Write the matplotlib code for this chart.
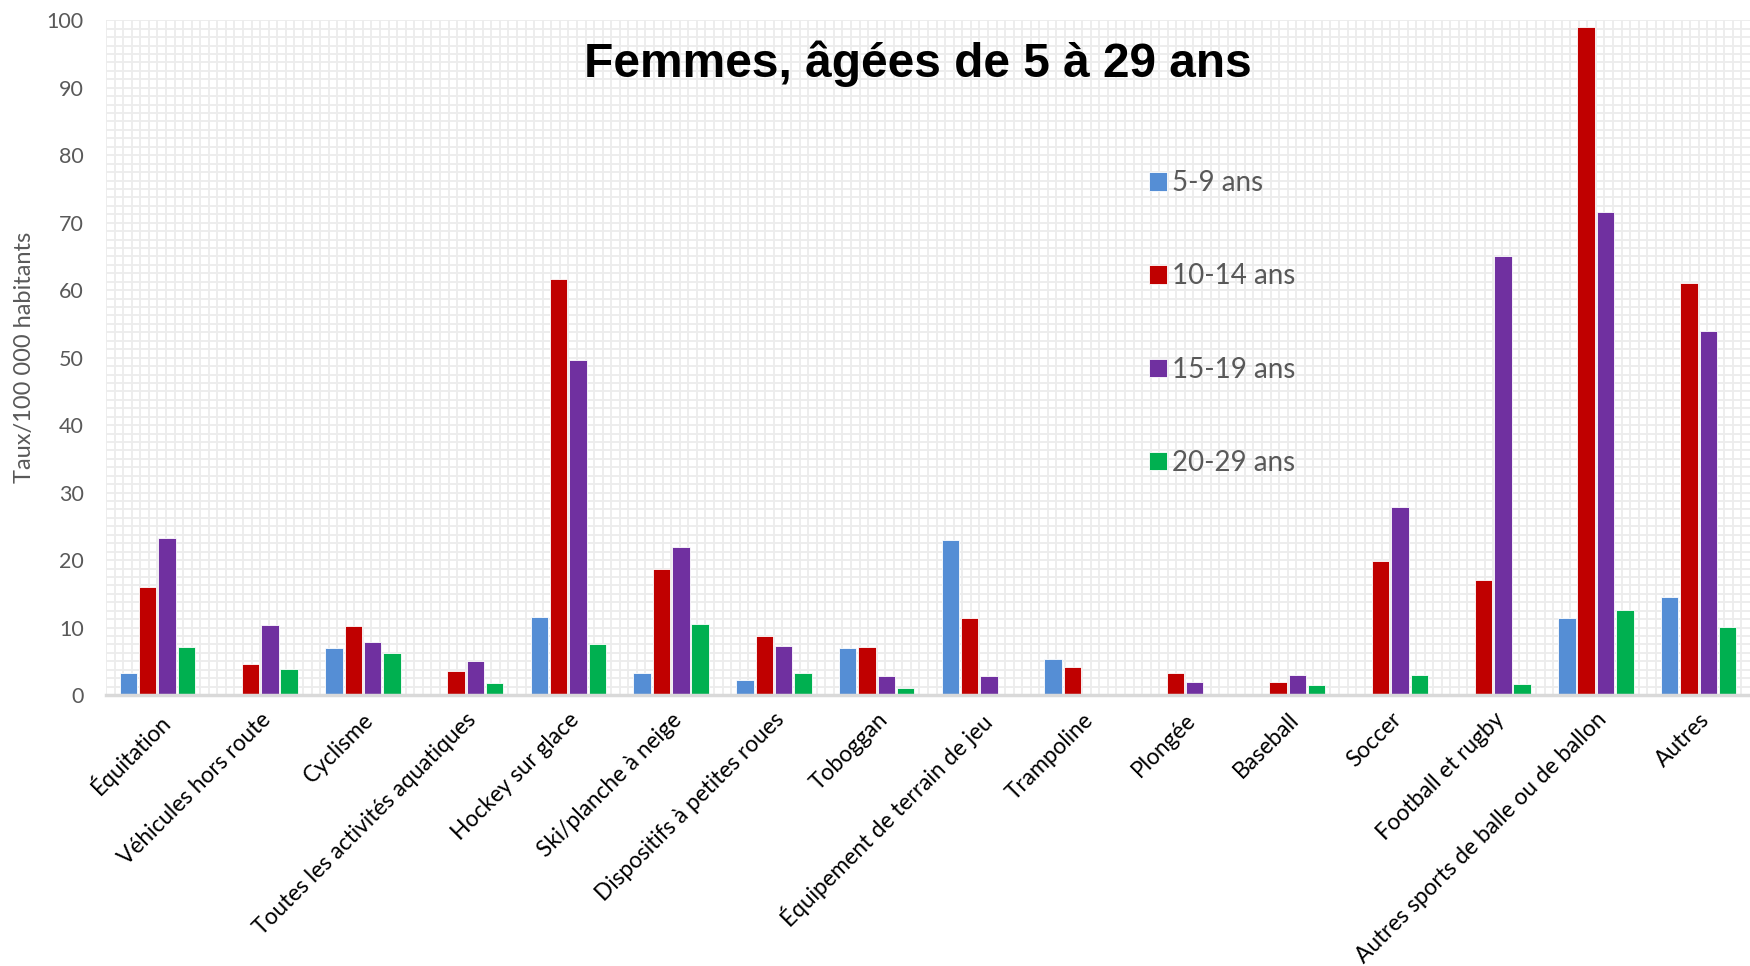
import numpy as np
import matplotlib
matplotlib.use("Agg")
import matplotlib.pyplot as plt
from matplotlib.ticker import MultipleLocator

# données
categories = ["Équitation", "Véhicules hors route", "Cyclisme",
              "Toutes les activités aquatiques", "Hockey sur glace",
              "Ski/planche à neige", "Dispositifs à petites roues", "Toboggan",
              "Équipement de terrain de jeu", "Trampoline", "Plongée", "Baseball",
              "Soccer", "Football et rugby", "Autres sports de balle ou de ballon",
              "Autres"]
groupes = ["5-9 ans", "10-14 ans", "15-19 ans", "20-29 ans"]

ans_5_9 = [3.3, 0, 6.9, 0, 11.6, 3.3, 2.3, 6.9, 23.0, 5.3, 0, 0, 0, 0, 11.4, 14.5]
ans_10_14 = [16.0, 4.6, 10.2, 3.5, 61.7, 18.7, 8.8, 7.1, 11.4, 4.1, 3.3, 2.0, 19.8, 17.0, 99.0, 61.0]
ans_15_19 = [23.3, 10.4, 7.9, 5.0, 49.6, 22.0, 7.3, 2.8, 2.8, 0, 2.0, 3.0, 27.8, 65.1, 71.6, 54.0]
ans_20_29 = [7.1, 3.8, 6.3, 1.8, 7.6, 10.6, 3.3, 1.0, 0, 0, 0, 1.5, 3.0, 1.7, 12.6, 10.1]

series = [ans_5_9, ans_10_14, ans_15_19, ans_20_29]
couleurs = ["#558ED5", "#C00000", "#7030A0", "#00B050"]

plt.rcParams["font.family"] = ["Lato", "DejaVu Sans"]

fig = plt.figure(figsize=(17.5, 9.66), dpi=100)
ax = fig.add_axes([0.0606, 0.2805, 0.9394, 0.6985])

x = np.arange(len(categories))
pas = 0.188
larg = 0.17
for i, (vals, c, lab) in enumerate(zip(series, couleurs, groupes)):
    ax.bar(x + (i - 1.5) * pas, vals, width=larg, color=c, label=lab,
           edgecolor="white", linewidth=0.6, zorder=3)

ax.set_xlim(-0.5, len(categories) - 0.5)
ax.set_ylim(0, 100)
ax.yaxis.set_major_locator(MultipleLocator(10))
ax.yaxis.set_minor_locator(MultipleLocator(1.25))
ax.set_xticks(x)
ax.set_xticklabels(categories, rotation=45, ha="right", rotation_mode="anchor",
                   fontsize=16.3, color="black")
ax.set_xticks(np.arange(-0.5, len(categories) - 0.5, 1 / 12), minor=True)

# grille fine en fond
ax.grid(True, which="both", color="#ececec", linewidth=1.3, zorder=0)
ax.set_axisbelow(True)

for s in ["top", "right", "left"]:
    ax.spines[s].set_visible(False)
ax.spines["bottom"].set_color("#d9d9d9")
ax.spines["bottom"].set_linewidth(2.5)
ax.spines["bottom"].set_zorder(4)

ax.tick_params(axis="both", which="both", length=0)
ax.tick_params(axis="y", labelsize=15.5, labelcolor="#595959", pad=16)
ax.tick_params(axis="x", pad=10)

ax.set_ylabel("Taux/100 000 habitants", fontsize=17, color="#595959")
ax.yaxis.set_label_coords(-0.043, 0.5)

ax.text(0.494, 0.935, "Femmes, âgées de 5 à 29 ans", transform=ax.transAxes,
        ha="center", va="center", fontsize=34.5, fontweight="bold",
        family="Liberation Sans", color="black")

leg = ax.legend(loc="upper left", bbox_to_anchor=(0.619, 0.815), frameon=False,
                fontsize=20, labelcolor="#595959", handlelength=0.65,
                handleheight=0.65, handletextpad=0.2, labelspacing=2.42)

fig.savefig("out.png", dpi=100, facecolor="white")
